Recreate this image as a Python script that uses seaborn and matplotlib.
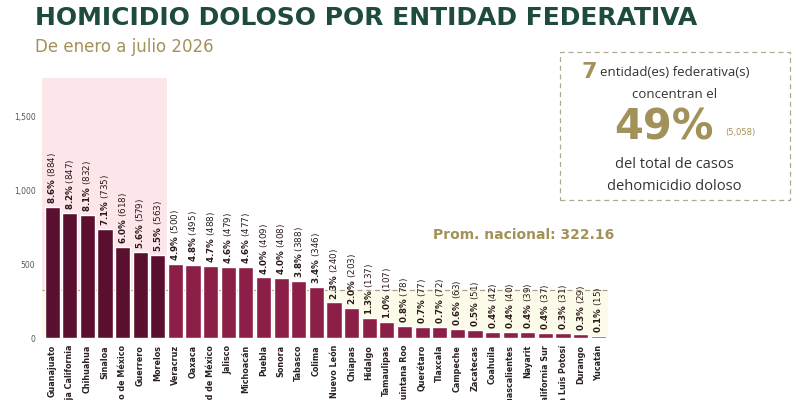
import numpy as np
import pandas as pd
import matplotlib
matplotlib.use("Agg")
import matplotlib.pyplot as plt
from matplotlib.patches import Rectangle
import seaborn as sns

entidades = ["Guanajuato", "Baja California", "Chihuahua", "Sinaloa", "Estado de México",
             "Guerrero", "Morelos", "Veracruz", "Oaxaca", "Ciudad de México", "Jalisco",
             "Michoacán", "Puebla", "Sonora", "Tabasco", "Colima", "Nuevo León", "Chiapas",
             "Hidalgo", "Tamaulipas", "Quintana Roo", "Querétaro", "Tlaxcala", "Campeche",
             "Zacatecas", "Coahuila", "Aguascalientes", "Nayarit", "Baja California Sur",
             "San Luis Potosí", "Durango", "Yucatán"]
victimas = [884, 847, 832, 735, 618, 579, 563, 500, 495, 488, 479, 477, 409, 408, 388,
            346, 240, 203, 137, 107, 78, 77, 72, 63, 51, 42, 40, 39, 37, 31, 29, 15]
porcentajes = ["8.6%", "8.2%", "8.1%", "7.1%", "6.0%", "5.6%", "5.5%", "4.9%", "4.8%",
               "4.7%", "4.6%", "4.6%", "4.0%", "4.0%", "3.8%", "3.4%", "2.3%", "2.0%",
               "1.3%", "1.0%", "0.8%", "0.7%", "0.7%", "0.6%", "0.5%", "0.4%", "0.4%",
               "0.4%", "0.4%", "0.3%", "0.3%", "0.1%"]
n_top = 7
promedio = 322.16

df = pd.DataFrame({"entidad": entidades, "victimas": victimas})

oscuro = "#5b0f2f"
claro = "#8c1f47"
oro = "#a3915a"
verde = "#1e4a40"
colores = [oscuro if i < n_top else claro for i in range(len(entidades))]

sns.set_style("white")
plt.rcParams["mathtext.fontset"] = "dejavusans"
fig = plt.figure(figsize=(8, 4), dpi=100)
ax = fig.add_axes([0.053, 0.155, 0.707, 0.65])

sns.barplot(data=df, x="entidad", y="victimas", hue="entidad", palette=colores,
            legend=False, width=0.86, saturation=1, ax=ax, zorder=3)

ax.set_ylim(0, 1757)
ax.set_xlim(-0.55, len(entidades) - 0.45)
ax.axvspan(-0.55, n_top - 0.5, color="#fde6ea", zorder=0, lw=0)
ax.axhspan(0, promedio, color="#fcfbea", zorder=1, lw=0)
ax.axhline(promedio, color="#a8a089", ls=(0, (4, 3)), lw=0.9, zorder=2)

for i, (v, p) in enumerate(zip(victimas, porcentajes)):
    etiqueta = r"$\bf{" + p.replace("%", r"\%") + "}$" + f" ({v})"
    ax.text(i, v + 20, etiqueta, rotation=90, ha="center", va="bottom", fontsize=6.3,
            color="#2a1a1a", zorder=5)

ax.set_yticks([0, 500, 1000, 1500])
ax.set_yticklabels(["0", "500", "1,000", "1,500"], fontsize=5.5, color="#555555")
ax.set_xticks(range(len(entidades)))
ax.set_xticklabels(entidades, rotation=90, fontsize=5.8, fontweight="bold", color="#2a2020")
ax.tick_params(length=0, pad=5)
ax.set_xlabel("")
ax.set_ylabel("Núm. de víctimas", fontsize=6, color="#777777", labelpad=8)
sns.despine(ax=ax, left=True, bottom=True)

ax.text(len(entidades) - 0.1, promedio + 375, "Prom. nacional: 322.16", ha="right",
        va="center", fontsize=10, fontweight="bold", color=oro, clip_on=False)

fig.text(0.044, 0.955, "HOMICIDIO DOLOSO POR ENTIDAD FEDERATIVA", fontsize=18,
         fontweight="heavy", color=verde, va="center", ha="left")
fig.text(0.044, 0.883, "De enero a julio 2026", fontsize=12, color=oro, va="center")

box = Rectangle((0.70, 0.50), 0.287, 0.37, transform=fig.transFigure, fill=False,
                ec="#b0a890", ls=(0, (4, 3)), lw=0.9)
fig.patches.append(box)
fig.text(0.727, 0.82, "7", fontsize=16, fontweight="bold", color=oro, va="center")
fig.text(0.75, 0.82, "entidad(es) federativa(s)", fontsize=9.5, color="#333333",
         va="center", family="Open Sans")
fig.text(0.843, 0.765, "concentran el", fontsize=9.5, color="#333333", va="center",
         ha="center", family="Open Sans")
fig.text(0.83, 0.68, "49%", fontsize=30, fontweight="heavy", color=oro, va="center", ha="center")
fig.text(0.925, 0.668, "(5,058)", fontsize=6, color=oro, va="center", ha="center")
fig.text(0.843, 0.59, "del total de casos", fontsize=10.5, color="#333333", va="center",
         ha="center", family="Open Sans")
fig.text(0.843, 0.535, "dehomicidio doloso", fontsize=10.5, color="#333333", va="center",
         ha="center", family="Open Sans")

fig.savefig("out.png", dpi=100)
